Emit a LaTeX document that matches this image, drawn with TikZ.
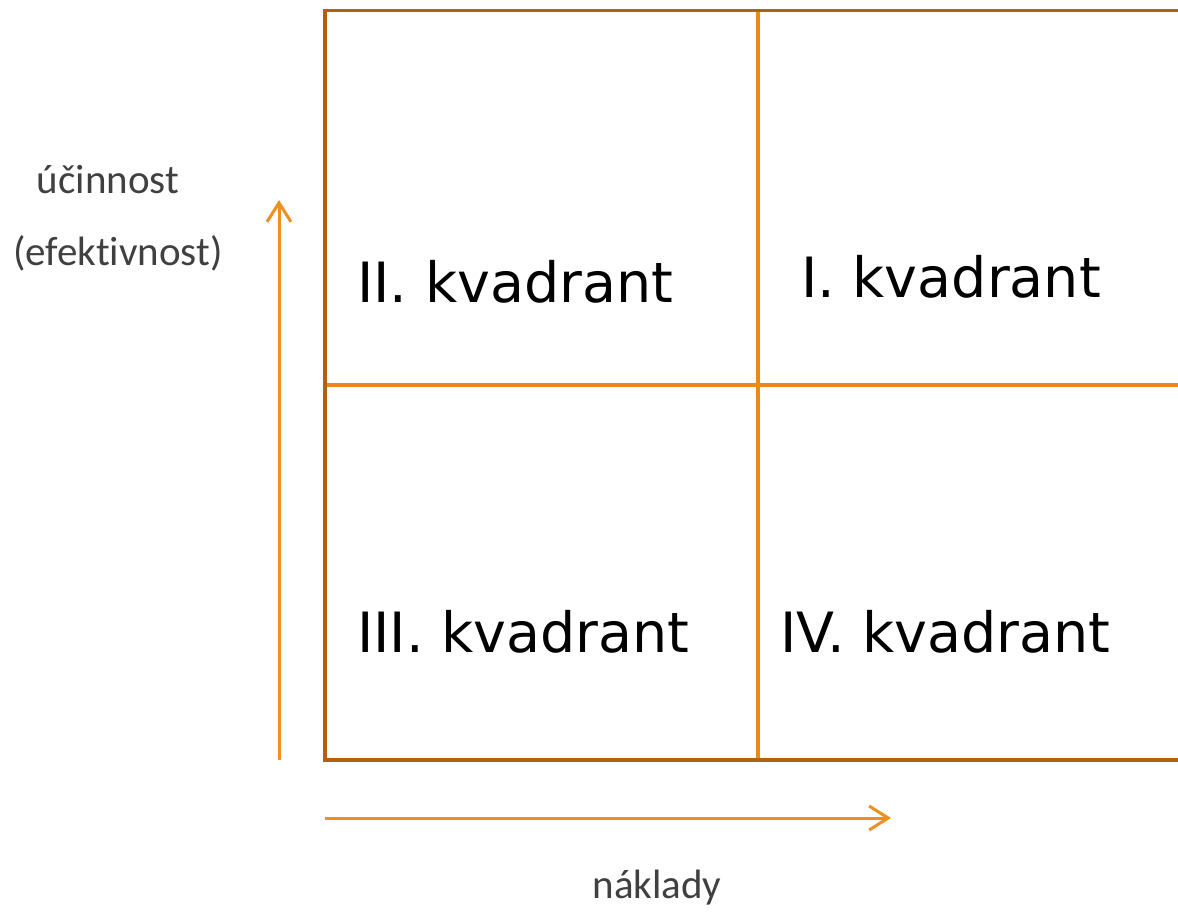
\documentclass[tikz,border=0pt]{standalone}
\usepackage{fontspec}
\setmainfont{DejaVu Sans}
\newfontfamily\labelfont[Ligatures=NoCommon]{Carlito}
\usetikzlibrary{arrows.meta}
\definecolor{frameBrown}{HTML}{B2620F}
\definecolor{gridOrange}{HTML}{E8891A}
\definecolor{axisOrange}{HTML}{EC901F}
\definecolor{labelGray}{HTML}{404040}
\tikzset{
  frame/.style={draw=frameBrown, line width=3.4pt},
  divider/.style={draw=gridOrange, line width=3.4pt},
  axis/.style={draw=axisOrange, line width=3pt,
    -{Straight Barb[length=19pt,width=24pt,line width=3pt]}},
  quad/.style={anchor=base west, inner sep=0pt, font=\fontsize{55.5}{62}\selectfont, text=black},
  axislabel/.style={anchor=base, inner sep=0pt, font=\labelfont\fontsize{41}{47}\selectfont, text=labelGray}
}
\begin{document}
\begin{tikzpicture}[x=1pt, y=-1pt]
  \useasboundingbox (0,0) rectangle (1178,914);
  \clip (0,0) rectangle (1178,914);

  % corner points of the quadrant grid
  \coordinate (tl) at (325,10.5);
  \coordinate (bl) at (325,760);
  \coordinate (tr) at (1190,10.5);
  \coordinate (br) at (1190,760);
  \coordinate (midtop) at (758,10.5);
  \coordinate (midbot) at (758,760);
  \coordinate (midleft) at (325,385);
  \coordinate (midright) at (1190,385);

  % dividing lines
  \draw[divider] (midtop) -- (midbot);
  \draw[divider] (midleft) -- (midright);

  % outer frame
  \draw[frame] (tr) -- (tl) -- (bl) -- (br);

  % quadrant labels
  \node[quad] (q2) at (357,302) {II. kvadrant};
  \node[quad] (q1) at (801,297) {I. kvadrant};
  \node[quad] (q3) at (357,652) {III. kvadrant};
  \node[quad] (q4) at (780,652) {IV. kvadrant};

  % axes
  \coordinate (ybase) at (279,760);
  \coordinate (ytip) at (279,200);
  \coordinate (xbase) at (325,818);
  \coordinate (xtip) at (891,818);
  \draw[axis] (ybase) -- (ytip);
  \draw[axis] (xbase) -- (xtip);

  % axis labels
  \node[axislabel] (ylab1) at (108,193) {účinnost};
  \node[axislabel] (ylab2) at (118,265) {(efektivnost)};
  \node[axislabel] (xlab) at (657,898) {náklady};
\end{tikzpicture}
\end{document}
